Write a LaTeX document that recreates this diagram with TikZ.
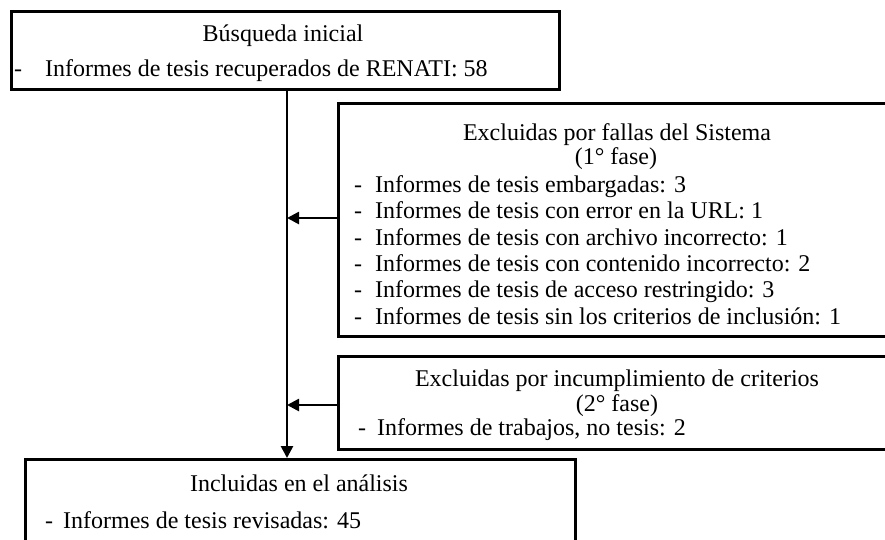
\documentclass[tikz,border=0pt]{standalone}
\usepackage{fontspec}
\setmainfont{Liberation Serif}
\usetikzlibrary{arrows.meta}
\tikzset{
  boxst/.style={draw=black, line width=2.8pt, anchor=north west, inner sep=0pt},
  txt/.style={inner sep=0pt, anchor=mid, font=\fontsize{24}{27}\selectfont},
  itm/.style={inner sep=0pt, anchor=mid west, font=\fontsize{24}{27}\selectfont},
  conn/.style={draw=black, line width=2.6pt},
  tip/.style={-{Triangle[length=12pt,width=12pt]}}
}
\newcommand{\dsh}[1]{\makebox[#1][l]{-}}
\begin{document}
\begin{tikzpicture}[x=1pt,y=-1pt]
\useasboundingbox (0,0) rectangle (885,539);
% boxes
\node[boxst, minimum width=548pt, minimum height=78pt] (top) at (10,10) {};
\node[boxst, minimum width=560pt, minimum height=233pt] (b1) at (337,102) {};
\node[boxst, minimum width=560pt, minimum height=93pt] (b2) at (337,355) {};
\node[boxst, minimum width=550pt, minimum height=90pt] (bot) at (24,458) {};
% texts top
\node[txt] (t1) at (283,39) {Búsqueda inicial};
\node[itm] (t2) at (14,74) {\dsh{31pt}Informes de tesis recuperados de RENATI: 58};
% box1
\node[txt] (e1) at (617,138) {Excluidas por fallas del Sistema};
\node[txt] (e2) at (616,162) {(1° fase)};
\node[itm] (i1) at (354,190) {\dsh{21pt}Informes de tesis embargadas: 3};
\node[itm] (i2) at (354,216.4) {\dsh{21pt}Informes de tesis con error en la URL: 1};
\node[itm] (i3) at (354,242.8) {\dsh{21pt}Informes de tesis con archivo incorrecto: 1};
\node[itm] (i4) at (354,269.2) {\dsh{21pt}Informes de tesis con contenido incorrecto: 2};
\node[itm] (i5) at (354,295.6) {\dsh{21pt}Informes de tesis de acceso restringido: 3};
\node[itm] (i6) at (354,322) {\dsh{21pt}Informes de tesis sin los criterios de inclusión: 1};
% box2
\node[txt] (f1) at (617,384) {Excluidas por incumplimiento de criterios};
\node[txt] (f2) at (617,409) {(2° fase)};
\node[itm] (j1) at (358,433) {\dsh{19pt}Informes de trabajos, no tesis: 2};
% bottom
\node[txt] (g1) at (299,489) {Incluidas en el análisis};
\node[itm] (g2) at (45,526) {\dsh{18pt}Informes de tesis revisadas: 45};
% connectors
\coordinate (lx) at (287,0);
\draw[conn,tip] (lx |- top.south) -- (lx |- bot.north);
\draw[conn,tip] (b1.west |- 0,218) -- (lx |- 0,218);
\draw[conn,tip] (b2.west |- 0,405) -- (lx |- 0,405);
\end{tikzpicture}
\end{document}
